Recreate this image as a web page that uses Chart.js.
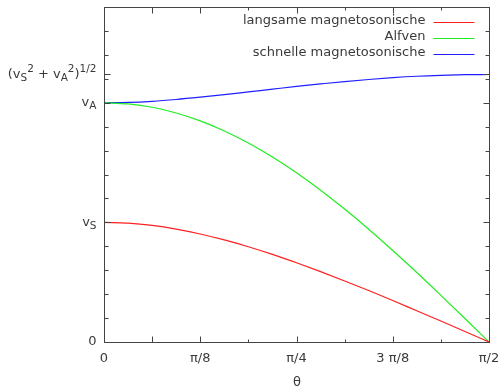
<!DOCTYPE html>
<html>
<head>
<meta charset="utf-8">
<script src="https://cdn.jsdelivr.net/npm/chart.js@4.4.1/dist/chart.umd.min.js"></script>
<style>
  html, body { margin: 0; padding: 0; background: #fff; }
  #wrap { width: 498px; height: 392px; }
</style>
</head>
<body>
<div id="wrap"><canvas id="chart" width="498" height="392"></canvas></div>
<script>
// Phasengeschwindigkeiten der MHD-Wellen ueber dem Winkel theta (Grad), v_S = 1, v_A = 2
const theta = [0, 5.625, 11.25, 16.875, 22.5, 28.125, 33.75, 39.375, 45, 50.625, 56.25, 61.875, 67.5, 73.125, 78.75, 84.375, 90];
const slowWave = [1.000, 0.994, 0.975, 0.944, 0.903, 0.853, 0.796, 0.732, 0.662, 0.588, 0.510, 0.430, 0.347, 0.261, 0.175, 0.088, 0];
const alfvenWave = [2.000, 1.990, 1.962, 1.914, 1.848, 1.764, 1.663, 1.546, 1.414, 1.269, 1.111, 0.943, 0.765, 0.581, 0.390, 0.196, 0];
const fastWave = [2.000, 2.003, 2.012, 2.027, 2.046, 2.067, 2.090, 2.113, 2.136, 2.157, 2.177, 2.194, 2.209, 2.221, 2.229, 2.234, 2.236];

const seriesNames = ["langsame magnetosonische", "Alfven", "schnelle magnetosonische"];
const seriesColors = ["#ff2020", "#20ee20", "#2020ff"];

// x-Achse: Teilstriche alle pi/16, beschriftet alle pi/8
const xTickValues = [0, 11.25, 22.5, 33.75, 45, 56.25, 67.5, 78.75, 90];
const xTickLabels = ["0", "", "π/8", "", "π/4", "", "3 π/8", "", "π/2"];
const xLongTicks = [0, 11.25, 22.5, 45, 67.5, 90];

// y-Achse: kleine Teilstriche alle 0.2, beschriftete Werte
const yMinorStep = 0.2;
const yMax = 2.8;
const yTickValues = [0, 1, 2, 2.236];
const yTickLabels = [
  [{ t: "0" }],
  [{ t: "v" }, { t: "S", sub: true }],
  [{ t: "v" }, { t: "A", sub: true }],
  [{ t: "(v" }, { t: "S", sub: true }, { t: "2", sup: true }, { t: " + v" }, { t: "A", sub: true }, { t: "2", sup: true }, { t: ")" }, { t: "1/2", sup: true }]
];

const FONT = "DejaVu Sans";
const TEXT = "#3a3a3a";
const AXIS = "#444";

function toPoints(ys) {
  return ys.map((y, i) => ({ x: theta[i], y: y }));
}

// Beschriftung mit Hoch-/Tiefstellung, rechtsbuendig
function drawRich(ctx, parts, right, y) {
  const size = p => (p.sub || p.sup) ? 10.5 : 13;
  let w = 0;
  parts.forEach(p => { ctx.font = size(p) + "px '" + FONT + "'"; w += ctx.measureText(p.t).width; });
  let x = right - w;
  ctx.textAlign = "left";
  ctx.textBaseline = "middle";
  parts.forEach(p => {
    ctx.font = size(p) + "px '" + FONT + "'";
    const dy = p.sub ? 4 : (p.sup ? -5 : 0);
    ctx.fillText(p.t, x, y + dy);
    x += ctx.measureText(p.t).width;
  });
}

const framePlugin = {
  id: "frame",
  afterDatasetsDraw(chart) {
    const ctx = chart.ctx;
    const xs = chart.scales.x, ys = chart.scales.y;
    const a = chart.chartArea;
    const L = Math.round(a.left) + 0.5, R = Math.round(a.right) + 0.5;
    const T = Math.round(a.top) + 0.5, B = Math.round(a.bottom) + 0.5;
    ctx.save();
    ctx.strokeStyle = AXIS;
    ctx.lineWidth = 1;
    ctx.strokeRect(L, T, R - L, B - T);

    ctx.beginPath();
    // x ticks oben und unten
    xTickValues.forEach(v => {
      const px = Math.round(xs.getPixelForValue(v)) + 0.5;
      const len = xLongTicks.includes(v) ? 6 : 3;
      ctx.moveTo(px, B); ctx.lineTo(px, B - len);
      ctx.moveTo(px, T); ctx.lineTo(px, T + len);
    });
    // y ticks links und rechts
    for (let v = yMinorStep; v < yMax - 1e-6; v += yMinorStep) {
      const py = Math.round(ys.getPixelForValue(v)) + 0.5;
      ctx.moveTo(L, py); ctx.lineTo(L + 4, py);
      ctx.moveTo(R, py); ctx.lineTo(R - 4, py);
    }
    yTickValues.forEach(v => {
      const py = Math.round(ys.getPixelForValue(v)) + 0.5;
      ctx.moveTo(L, py); ctx.lineTo(L + 6, py);
      ctx.moveTo(R, py); ctx.lineTo(R - 6, py);
    });
    ctx.stroke();

    // Beschriftungen
    ctx.fillStyle = TEXT;
    ctx.font = "13px '" + FONT + "'";
    ctx.textAlign = "center";
    ctx.textBaseline = "middle";
    xTickValues.forEach((v, i) => {
      if (xTickLabels[i]) ctx.fillText(xTickLabels[i], xs.getPixelForValue(v), B + 16);
    });
    ctx.fillText("θ", (L + R) / 2, B + 40);
    yTickValues.forEach((v, i) => {
      drawRich(ctx, yTickLabels[i], L - 8, ys.getPixelForValue(v));
    });

    // Legende
    seriesNames.forEach((name, i) => {
      const y = T + 14.5 + i * 16;
      ctx.fillStyle = TEXT;
      ctx.font = "13px '" + FONT + "'";
      ctx.textAlign = "right";
      ctx.fillText(name, R - 64, y - 1);
      ctx.strokeStyle = seriesColors[i];
      ctx.beginPath();
      ctx.moveTo(R - 56, Math.floor(y) + 0.5);
      ctx.lineTo(R - 15, Math.floor(y) + 0.5);
      ctx.stroke();
    });
    ctx.restore();
  }
};

new Chart(document.getElementById("chart"), {
  type: "line",
  data: {
    datasets: [slowWave, alfvenWave, fastWave].map((ys, i) => ({
      label: seriesNames[i],
      data: toPoints(ys),
      borderColor: seriesColors[i],
      borderWidth: 1.2,
      pointRadius: 0,
      cubicInterpolationMode: "monotone",
      fill: false
    }))
  },
  options: {
    responsive: false,
    animation: false,
    layout: { padding: { left: 104, right: 9, top: 7, bottom: 50 } },
    scales: {
      x: { type: "linear", min: 0, max: 90, display: false },
      y: { type: "linear", min: 0, max: yMax, display: false }
    },
    plugins: {
      legend: { display: false },
      tooltip: { enabled: false }
    }
  },
  plugins: [framePlugin]
});
</script>
</body>
</html>
